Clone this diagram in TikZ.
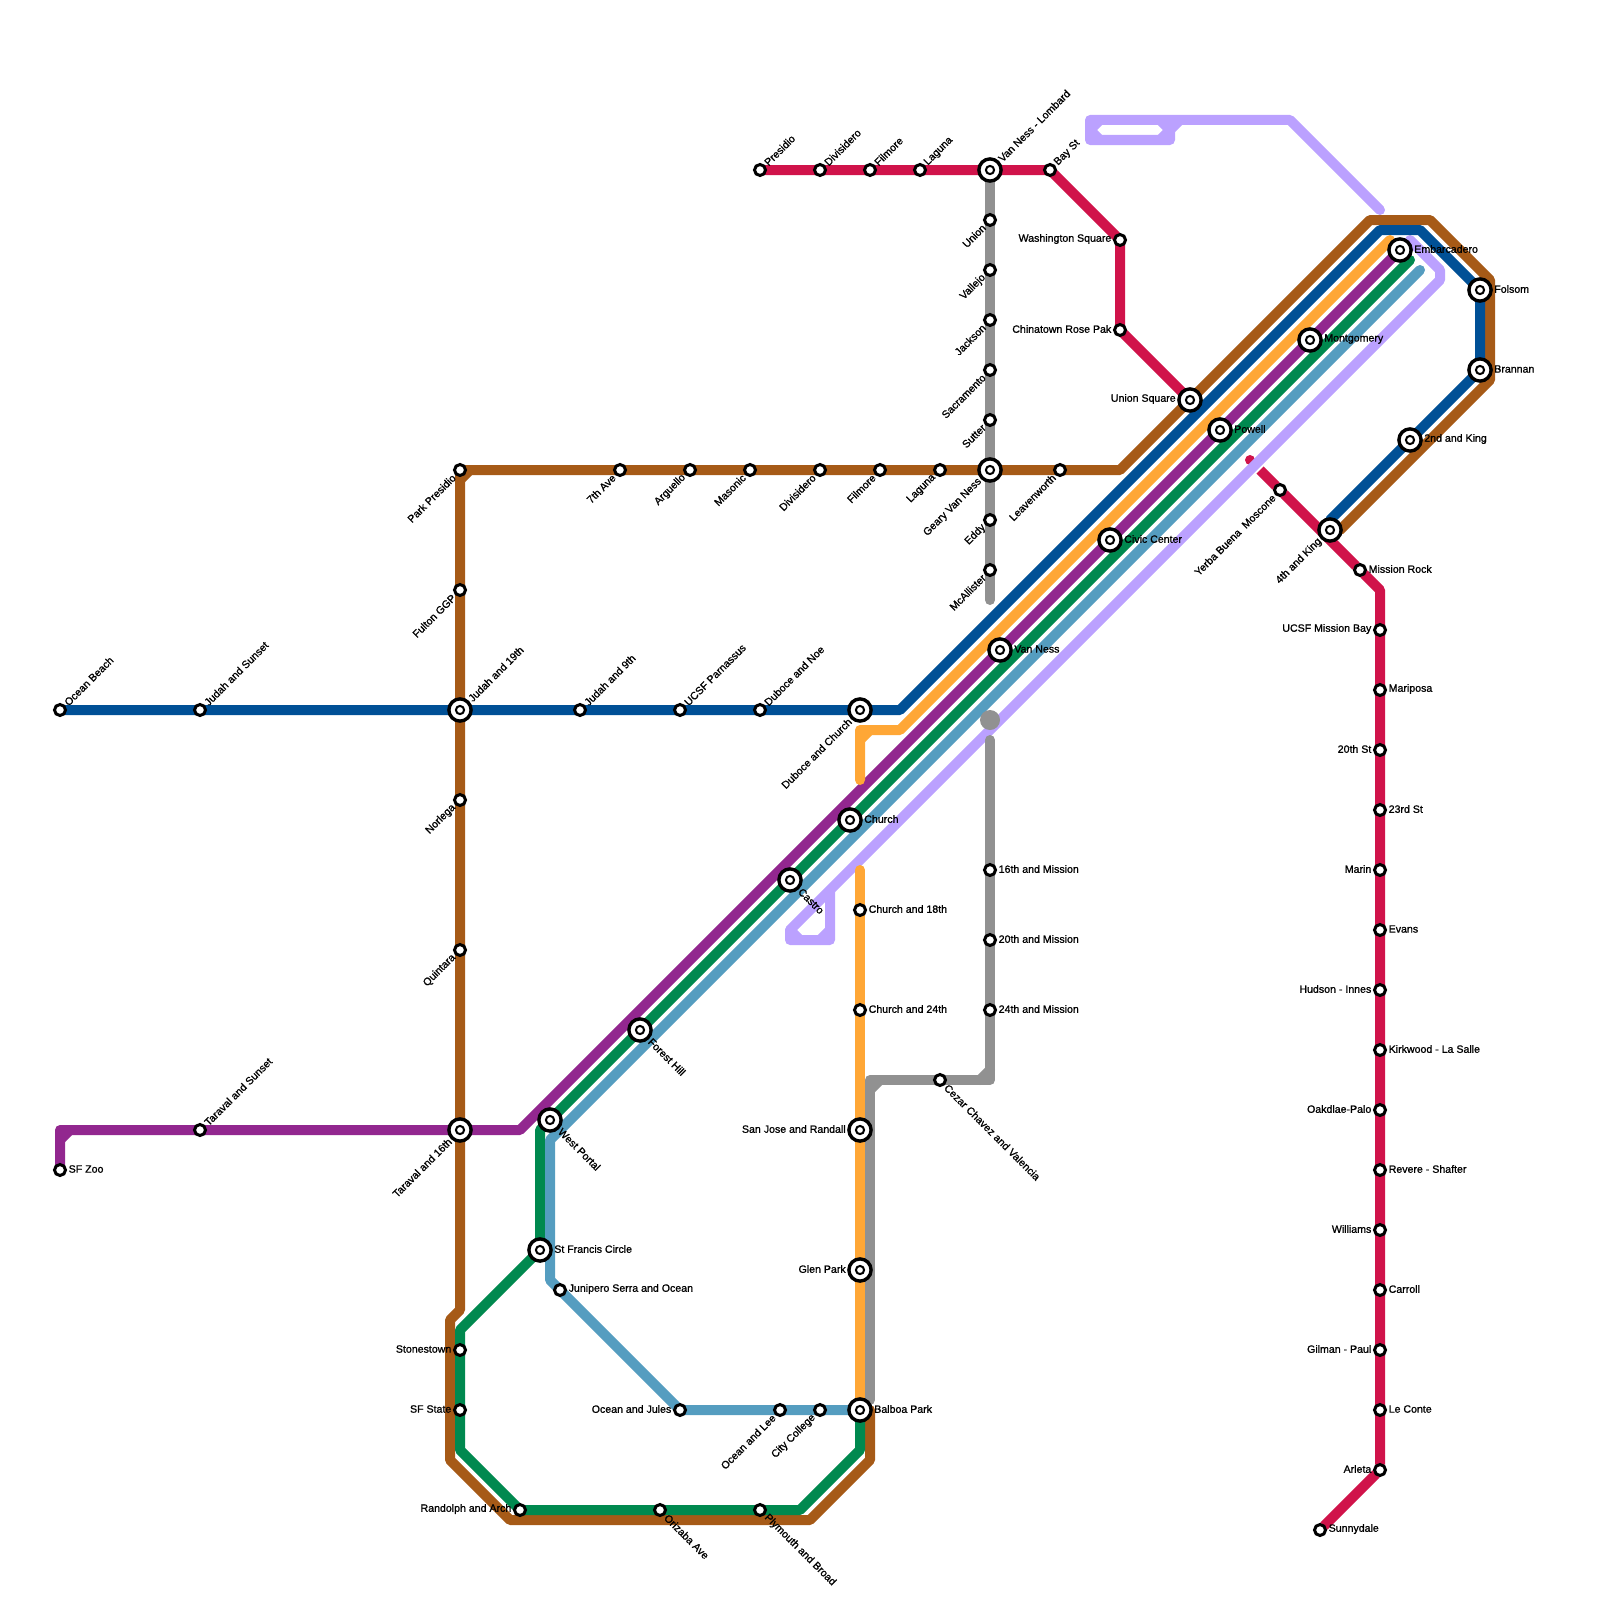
\documentclass[tikz,border=0pt]{standalone}
\usepackage{fontspec}
\setmainfont{Liberation Sans}[FakeBold=1]
\usetikzlibrary{backgrounds}
\definecolor{lnbrown}{HTML}{A65A17}
\definecolor{lnblue}{HTML}{005096}
\definecolor{lnorange}{HTML}{FFA736}
\definecolor{lnpurple}{HTML}{92278F}
\definecolor{lngreen}{HTML}{00894F}
\definecolor{lnteal}{HTML}{559DC0}
\definecolor{lnlav}{HTML}{BBA1FF}
\definecolor{lngray}{HTML}{919191}
\definecolor{lnred}{HTML}{D0134A}
\def\lblgap{3pt}
\tikzset{
  lbl/.style={font=\fontsize{10.6}{12}\selectfont,inner sep=0pt,text=black},
  toE/.style={label={[lbl,xshift=\lblgap,anchor=west,yshift=1pt]0:#1}},
  toW/.style={label={[lbl,xshift=-\lblgap,anchor=east,yshift=1pt]180:#1}},
  toNE/.style={label={[lbl,xshift=0.7*\lblgap,yshift=0.7*\lblgap,rotate=45,anchor=west]45:#1}},
  toSW/.style={label={[lbl,xshift=-0.7*\lblgap,yshift=-0.7*\lblgap,rotate=45,anchor=east]225:#1}},
  toSE/.style={label={[lbl,xshift=0.7*\lblgap,yshift=-0.7*\lblgap,rotate=-45,anchor=west]-45:#1}},
  stop/.style={circle,draw=black,fill=white,line width=3pt,minimum size=11pt,inner sep=0pt,outer sep=0pt,/utils/exec={\def\lblgap{2.5pt}}},
  hub/.style={circle,draw=black,fill=white,line width=3.4pt,minimum size=22.2pt,inner sep=0pt,outer sep=0pt,/utils/exec={\def\lblgap{5.5pt}},
    path picture={\draw[line width=2pt] (path picture bounding box.center) circle (4.1pt);}},
  lnline/.style={line width=10pt,line cap=round,line join=round},
}
\begin{document}
\begin{tikzpicture}[x=1pt,y=-1pt]
\useasboundingbox (0,0) rectangle (1600,1600);
% red
\node[stop,toNE=Presidio] (presidio) at (760,170) {};
\node[stop,toNE=Divisidero] (divA) at (820,170) {};
\node[stop,toNE=Filmore] (filA) at (870,170) {};
\node[stop,toNE=Laguna] (lagA) at (920,170) {};
\node[hub,toNE={Van Ness - Lombard}] (lombard) at (990,170) {};
\node[stop,toNE={Bay St}] (bay) at (1050,170) {};
\node[stop,toW={Washington Square}] (washington) at (1120,240) {};
\node[stop,toW={Chinatown Rose Pak}] (chinatown) at (1120,330) {};
\node[hub,toW={Union Square}] (unionsq) at (1190,400) {};
\node[stop,toSW={Yerba Buena\ \ Moscone}] (moscone) at (1280,490) {};
\node[hub,toSW={4th and King}] (fourth) at (1330,530) {};
\node[stop,toE={Mission Rock}] (missionrock) at (1360,570) {};
\node[stop,toW={UCSF Mission Bay}] (missionbay) at (1380,630) {};
\node[stop,toE={Mariposa}] (mariposa) at (1380,690) {};
\node[stop,toW={20th St}] (twentieth) at (1380,750) {};
\node[stop,toE={23rd St}] (twentythird) at (1380,810) {};
\node[stop,toW={Marin}] (marin) at (1380,870) {};
\node[stop,toE={Evans}] (evans) at (1380,930) {};
\node[stop,toW={Hudson - Innes}] (hudson) at (1380,990) {};
\node[stop,toE={Kirkwood - La Salle}] (kirkwood) at (1380,1050) {};
\node[stop,toW={Oakdlae-Palo}] (oakdale) at (1380,1110) {};
\node[stop,toE={Revere - Shafter}] (revere) at (1380,1170) {};
\node[stop,toW={Williams}] (williams) at (1380,1230) {};
\node[stop,toE={Carroll}] (carroll) at (1380,1290) {};
\node[stop,toW={Gilman - Paul}] (gilman) at (1380,1350) {};
\node[stop,toE={Le Conte}] (leconte) at (1380,1410) {};
\node[stop,toW={Arleta}] (arleta) at (1380,1470) {};
\node[stop,toE={Sunnydale}] (sunnydale) at (1320,1530) {};
% gray
\node[stop,toSW={Union}] (union) at (990,220) {};
\node[stop,toSW={Vallejo}] (vallejo) at (990,270) {};
\node[stop,toSW={Jackson}] (jackson) at (990,320) {};
\node[stop,toSW={Sacramento}] (sacramento) at (990,370) {};
\node[stop,toSW={Sutter}] (sutter) at (990,420) {};
\node[hub,toSW={Geary Van Ness}] (geary) at (990,470) {};
\node[stop,toSW={Eddy}] (eddy) at (990,520) {};
\node[stop,toSW={McAllister}] (mcallister) at (990,570) {};
\node[stop,toE={16th and Mission}] (mis16) at (990,870) {};
\node[stop,toE={20th and Mission}] (mis20) at (990,940) {};
\node[stop,toE={24th and Mission}] (mis24) at (990,1010) {};
\node[stop,toSE={Cezar Chavez and Valencia}] (cezar) at (940,1080) {};
% brown
\node[stop,toSW={Park Presidio}] (parkpresidio) at (460,470) {};
\node[stop,toSW={7th Ave}] (seventh) at (620,470) {};
\node[stop,toSW={Arguello}] (arguello) at (690,470) {};
\node[stop,toSW={Masonic}] (masonic) at (750,470) {};
\node[stop,toSW={Divisidero}] (divB) at (820,470) {};
\node[stop,toSW={Filmore}] (filB) at (880,470) {};
\node[stop,toSW={Laguna}] (lagB) at (940,470) {};
\node[stop,toSW={Leavenworth}] (leavenworth) at (1060,470) {};
\node[stop,toSW={Fulton GGP}] (fulton) at (460,590) {};
\node[hub,toNE={Judah and 19th}] (judah19) at (460,710) {};
\node[stop,toSW={Norlega}] (norlega) at (460,800) {};
\node[stop,toSW={Quintara}] (quintara) at (460,950) {};
\node[hub,toSW={Taraval and 16th}] (taraval16) at (460,1130) {};
\node[stop,toW={Stonestown}] (stonestown) at (460,1350) {};
\node[stop,toW={SF State}] (sfstate) at (460,1410) {};
\node[stop,toW={Randolph and Arch}] (randolph) at (520,1510) {};
\node[stop,toSE={Orizaba Ave}] (orizaba) at (660,1510) {};
\node[stop,toSE={Plymouth and Broad}] (plymouth) at (760,1510) {};
% blue, purple
\node[stop,toNE={Ocean Beach}] (oceanbeach) at (60,710) {};
\node[stop,toNE={Judah and Sunset}] (judahsunset) at (200,710) {};
\node[stop,toNE={Judah and 9th}] (judah9) at (580,710) {};
\node[stop,toNE={UCSF Parnassus}] (parnassus) at (680,710) {};
\node[stop,toNE={Duboce and Noe}] (dubocenoe) at (760,710) {};
\node[hub,toSW={Duboce and Church}] (dubocechurch) at (860,710) {};
\node[stop,toNE={Taraval and Sunset}] (taravalsunset) at (200,1130) {};
\node[stop,toE={SF Zoo}] (zoo) at (60,1170) {};
% trunk
\node[hub,toSE={West Portal}] (westportal) at (550,1120) {};
\node[hub,toSE={Forest Hill}] (foresthill) at (640,1030) {};
\node[hub,toSE={Castro}] (castro) at (790,880) {};
\node[hub,toE={Church}] (church) at (850,820) {};
\node[hub,toE={Van Ness}] (vanness) at (1000,650) {};
\node[hub,toE={Civic Center}] (civic) at (1110,540) {};
\node[hub,toE={Powell}] (powell) at (1220,430) {};
\node[hub,toE={Montgomery}] (montgomery) at (1310,340) {};
\node[hub,toE={Embarcadero}] (embarcadero) at (1400,250) {};
\node[hub,toE={Folsom}] (folsom) at (1480,290) {};
\node[hub,toE={Brannan}] (brannan) at (1480,370) {};
\node[hub,toE={2nd and King}] (secondking) at (1410,440) {};
% south
\node[hub,toE={St Francis Circle}] (stfrancis) at (540,1250) {};
\node[stop,toE={Junipero Serra and Ocean}] (junipero) at (560,1290) {};
\node[stop,toW={Ocean and Jules}] (oceanjules) at (680,1410) {};
\node[stop,toSW={Ocean and Lee}] (oceanlee) at (780,1410) {};
\node[stop,toSW={City College}] (citycollege) at (820,1410) {};
\node[hub,toE={Balboa Park}] (balboa) at (860,1410) {};
\node[hub,toW={Glen Park}] (glenpark) at (860,1270) {};
\node[hub,toW={San Jose and Randall}] (sanjose) at (860,1130) {};
\node[stop,toE={Church and 24th}] (church24) at (860,1010) {};
\node[stop,toE={Church and 18th}] (church18) at (860,910) {};
% bends
\coordinate (rdA) at (1250,460); \coordinate (rdB) at (1260,470); \coordinate (rdC) at (1380,590);
\coordinate (lvA) at (1440,280); \coordinate (lvB) at (1440,270); \coordinate (lvC) at (1290,120);
\coordinate (lvD) at (1090,120); \coordinate (lvE) at (1090,140); \coordinate (lvF) at (1170,140);
\coordinate (lvG) at (1170,130); \coordinate (lvH) at (1180,120); \coordinate (lvI) at (1090,130);
\coordinate (lvJ) at (1100,120); \coordinate (lvK) at (1100,140); \coordinate (lvL) at (1160,120);
\coordinate (lvM) at (1160,140); \coordinate (lvU) at (1380,210); \coordinate (lvV) at (1410,240);
\coordinate (lvN) at (830,890); \coordinate (lvO) at (790,930); \coordinate (lvP) at (790,940);
\coordinate (lvQ) at (830,940); \coordinate (lvR) at (800,940); \coordinate (lvS) at (820,940);
\coordinate (lvT) at (830,930);
\coordinate (brA) at (460,480); \coordinate (brB) at (470,470); \coordinate (brC) at (1120,470);
\coordinate (brD) at (1370,220); \coordinate (brE) at (1430,220); \coordinate (brF) at (1490,280);
\coordinate (brG) at (1490,380); \coordinate (brH) at (1340,530); \coordinate (brI) at (460,1310);
\coordinate (brJ) at (450,1320); \coordinate (brK) at (450,1460); \coordinate (brL) at (510,1520);
\coordinate (brM) at (810,1520); \coordinate (brN) at (870,1460); \coordinate (brO) at (870,1410);
\coordinate (blA) at (900,710); \coordinate (blB) at (1380,230); \coordinate (blC) at (1420,230);
\coordinate (blD) at (1330,520);
\coordinate (orA) at (860,780); \coordinate (orB) at (860,730); \coordinate (orC) at (900,730);
\coordinate (orD) at (1390,240); \coordinate (orE) at (860,870); \coordinate (orF) at (860,740);
\coordinate (orG) at (870,730);
\coordinate (puA) at (60,1130); \coordinate (puB) at (60,1140); \coordinate (puC) at (70,1130);
\coordinate (puD) at (520,1130);
\coordinate (grA) at (1410,260); \coordinate (grB) at (540,1130); \coordinate (grC) at (460,1330);
\coordinate (grD) at (460,1450); \coordinate (grE) at (520,1510); \coordinate (grF) at (800,1510);
\coordinate (grG) at (860,1450);
\coordinate (teA) at (1420,270); \coordinate (teB) at (550,1140); \coordinate (teC) at (550,1280);
\coordinate (gyA) at (990,600); \coordinate (gyB) at (990,740); \coordinate (gyC) at (990,1080);
\coordinate (gyD) at (870,1080); \coordinate (gyE) at (870,1400); \coordinate (gyF) at (980,1080);
\coordinate (gyG) at (990,1070); \coordinate (gyH) at (870,1090); \coordinate (gyI) at (880,1080);
\coordinate (gyJ) at (990,720);
\begin{scope}[on background layer]
\draw[lnline,lnred] (presidio) -- (bay) -- (washington) -- (chinatown) -- (unionsq);
\draw[lnline,lnred,line cap=butt] (rdB) -- (moscone) -- (missionrock) -- (rdC) -- (arleta) -- (sunnydale);
\draw[lnline,lnred] (rdA) -- ++(0.01,0.01);
\draw[lnline,lnlav] (lvU) -- (lvC) -- (lvD) -- (lvE) -- (lvF) -- (lvG) -- (lvH);
\draw[lnline,lnlav] (lvI) -- (lvJ) (lvI) -- (lvK) (lvL) -- (lvG) -- (lvM);
\draw[lnline,lnlav] (lvV) -- (lvB) -- (lvA) -- (lvN) -- (lvO) -- (lvP) -- (lvQ) -- (lvN);
\draw[lnline,lnlav] (lvO) -- (lvR) (lvS) -- (lvT);
\draw[lnline,lnbrown] (parkpresidio) -- (brC) -- (unionsq) -- (brD) -- (brE) -- (brF) -- (brG) -- (brH);
\draw[lnline,lnbrown] (parkpresidio) -- (brI) -- (brJ) -- (brK) -- (brL) -- (brM) -- (brN) -- (brO);
\draw[lnline,lnbrown] (brA) -- (brB);
\draw[lnline,lnblue] (oceanbeach) -- (blA) -- (blB) -- (blC) -- (folsom) -- (brannan) -- (blD);
\draw[lnline,lnpurple] (zoo) -- (puA) -- (puD) -- (embarcadero);
\draw[lnline,lnpurple] (puB) -- (puC);
\draw[lnline,lnorange] (orA) -- (orB) -- (orC) -- (orD);
\draw[lnline,lnorange] (orF) -- (orG);
\draw[lnline,lnorange] (orE) -- (balboa);
\draw[lnline,lngreen] (grA) -- (grB) -- (stfrancis) -- (grC) -- (grD) -- (grE) -- (grF) -- (grG) -- (balboa);
\draw[lnline,lnteal] (teA) -- (teB) -- (teC) -- (oceanjules) -- (balboa);
\draw[lnline,lngray] (lombard) -- (gyA);
\draw[lnline,lngray] (gyB) -- (gyC) -- (gyD) -- (gyE);
\draw[lnline,lngray] (gyF) -- (gyG) (gyH) -- (gyI);
\fill[lngray] (gyJ) circle (10pt);
\end{scope}
\end{tikzpicture}
\end{document}
